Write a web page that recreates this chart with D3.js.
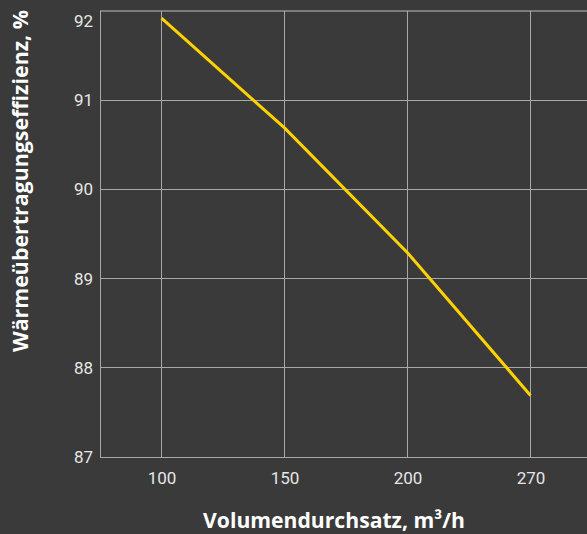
<!DOCTYPE html>
<html>
<head>
<meta charset="utf-8">
<script src="https://cdn.jsdelivr.net/npm/d3@7"></script>
<style>
  html, body { margin: 0; padding: 0; background: #3a3a3a; }
  svg { display: block; }
</style>
</head>
<body>
<svg id="chart" width="587" height="534"></svg>
<script>
const categories = ["100", "150", "200", "270"];
const efficiency = [91.92, 90.69, 89.29, 87.69];
const yTicks = [87, 88, 89, 90, 91, 92];
const xTitle = "Volumendurchsatz, m³/h";
const yTitle = "Wärmeübertragungseffizienz, %";

const W = 587, H = 534;
const margin = { left: 100, top: 11, right: -5, bottom: 77 };
const svg = d3.select("#chart");
svg.append("rect").attr("width", W).attr("height", H).attr("fill", "#3a3a3a");

const x = d3.scalePoint().domain(categories)
  .range([margin.left, W - margin.right]).padding(0.5);
const y = d3.scaleLinear().domain([87, 92]).range([H - margin.bottom, margin.top]);

const font = "Roboto, 'Open Sans', sans-serif";
const titleFont = "'Open Sans', Roboto, sans-serif";
const grid = svg.append("g");

// horizontal grid
grid.selectAll("line.h").data(yTicks).join("line")
  .attr("x1", margin.left).attr("x2", W)
  .attr("y1", d => y(d)).attr("y2", d => y(d))
  .attr("stroke", d => d === 92 ? "#7c7c7c" : "#a8a8a8")
  .attr("stroke-width", d => d === 92 ? 2 : 1)
  .attr("shape-rendering", "crispEdges");

// vertical grid
grid.selectAll("line.v").data(categories).join("line")
  .attr("x1", d => x(d)).attr("x2", d => x(d))
  .attr("y1", y(92)).attr("y2", y(87))
  .attr("stroke", "#a8a8a8").attr("stroke-width", 1)
  .attr("shape-rendering", "crispEdges");

// left axis line
grid.append("line")
  .attr("x1", margin.left).attr("x2", margin.left)
  .attr("y1", y(92)).attr("y2", y(87))
  .attr("stroke", "#a8a8a8").attr("stroke-width", 1)
  .attr("shape-rendering", "crispEdges");

// y tick labels
const yAxis = d3.axisLeft(y).tickValues(yTicks).tickSize(0).tickPadding(7).tickFormat(d3.format("d"));
const gy = svg.append("g").attr("transform", `translate(${margin.left},0)`).call(yAxis);
gy.select(".domain").remove();
gy.selectAll("text").attr("fill", "#e6e6e6").attr("font-size", 17).attr("font-family", font);
// top label nudged down so it stays inside the picture
gy.selectAll(".tick").filter(d => d === 92).select("text").attr("dy", "0.9em");

// x tick labels
const xAxis = d3.axisBottom(x).tickSize(0).tickPadding(15);
const gx = svg.append("g").attr("transform", `translate(0,${y(87)})`).call(xAxis);
gx.select(".domain").remove();
gx.selectAll("text").attr("fill", "#e6e6e6").attr("font-size", 17).attr("font-family", font);

// line
const line = d3.line().x((d, i) => x(categories[i])).y(d => y(d));
svg.append("path").datum(efficiency)
  .attr("d", line).attr("fill", "none")
  .attr("stroke", "#ffd200").attr("stroke-width", 3);

// titles
function fitTitle(t, target) {
  const len = t.node().getComputedTextLength();
  if (len > 0) t.attr("font-size", 20 * target / len);
}
const xt = svg.append("text")
  .attr("x", 334).attr("y", 528)
  .attr("text-anchor", "middle")
  .attr("fill", "#ffffff").attr("font-weight", "bold")
  .attr("font-size", 20).attr("font-family", titleFont)
  .text(xTitle);
fitTitle(xt, 262);

const yt = svg.append("text")
  .attr("transform", "translate(28,181) rotate(-90)")
  .attr("text-anchor", "middle")
  .attr("fill", "#ffffff").attr("font-weight", "bold")
  .attr("font-size", 20).attr("font-family", titleFont)
  .text(yTitle);
fitTitle(yt, 342);
</script>
</body>
</html>
